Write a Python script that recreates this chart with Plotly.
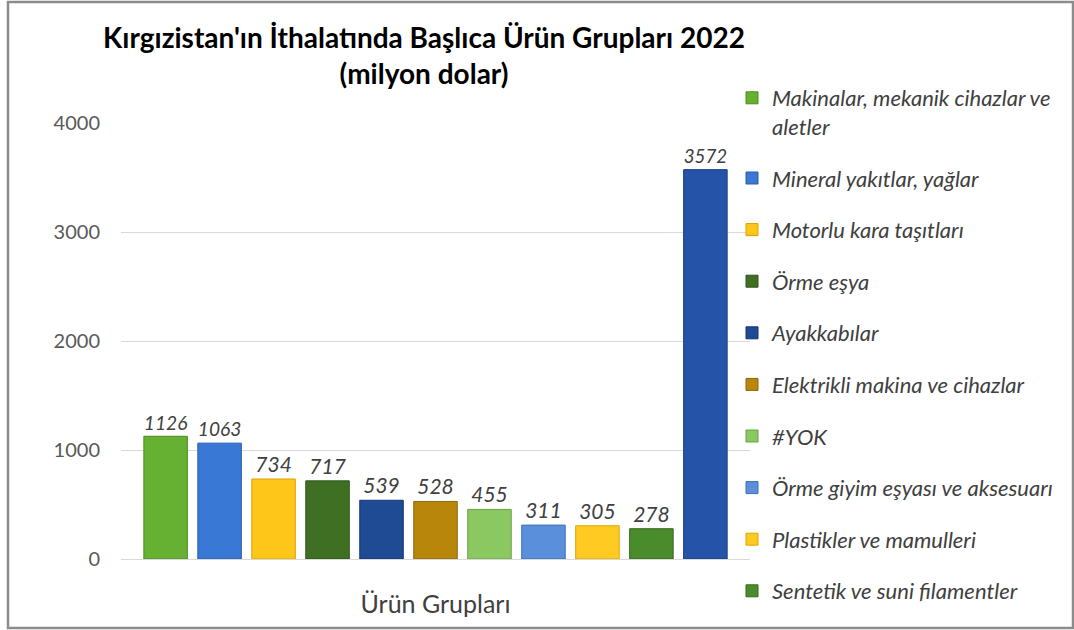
import plotly.graph_objects as go

category = ["Ürün Grupları"]
names = [
    "Makinalar, mekanik cihazlar ve<br>aletler",
    "Mineral yakıtlar, yağlar",
    "Motorlu kara taşıtları",
    "Örme eşya",
    "Ayakkabılar",
    "Elektrikli makina ve cihazlar",
    "#YOK",
    "Örme giyim eşyası ve aksesuarı",
    "Plastikler ve mamulleri",
    "Sentetik ve suni filamentler",
    "Diğer",
]
values = [1126, 1063, 734, 717, 539, 528, 455, 311, 305, 278, 3572]
in_legend = [True] * 10 + [False]
colors = ["#66B032", "#3A78D6", "#FFC61A", "#3F6F22", "#1F4A94", "#B8860B",
          "#8CC862", "#5A8FDC", "#FFCB22", "#4A8B2C", "#2553A8"]
edges = ["#4E8A26", "#2A5CA8", "#D9A200", "#2E5418", "#153570", "#8C6508",
         "#6BA048", "#426FB0", "#D9A800", "#36681F", "#1A3D80"]

W, H = 1074, 630
ML, MR, MT, MB = 121, 324, 123, 71
PW, PH = W - ML - MR, H - MT - MB

fig = go.Figure()
for i, (n, v) in enumerate(zip(names, values)):
    fig.add_trace(go.Bar(
        x=category, y=[v], name=n, showlegend=in_legend[i],
        legendgroup=f"g{i}",
        marker=dict(color=colors[i], line=dict(color=edges[i], width=1)),
        texttemplate="%{y}", textposition="outside",
        textfont=dict(family="Lato", size=21, color="#404040", style="italic"),
        cliponaxis=False,
    ))

fig.update_layout(
    width=W, height=H,
    margin=dict(l=ML, r=MR, t=MT, b=MB),
    paper_bgcolor="white", plot_bgcolor="white",
    barmode="group", bargap=0.056, bargroupgap=0.194,
    title=dict(
        text="Kırgızistan'ın İthalatında Başlıca Ürün Grupları 2022<br>(milyon dolar)",
        x=424 / W, xanchor="center", xref="container",
        y=1 - 48 / H, yanchor="top", yref="container",
        font=dict(family="Lato", size=28, color="#000000", weight="bold"),
    ),
    legend=dict(
        x=(732 - ML) / PW, xanchor="left", y=1 + (MT - 77) / PH, yanchor="top",
        font=dict(family="Lato", size=22, color="#404040", style="italic"),
        tracegroupgap=20, traceorder="grouped", valign="top",
        bgcolor="rgba(0,0,0,0)", maxheight=600,
    ),
    xaxis=dict(
        showticklabels=False, showgrid=False, zeroline=False, showline=False,
        title=dict(text="Ürün Grupları", standoff=36,
                   font=dict(family="Lato", size=25, color="#404040")),
    ),
    yaxis=dict(
        range=[0, 4000], tickvals=[0, 1000, 2000, 3000, 4000],
        showgrid=True, gridcolor="#D9D9D9", gridwidth=1,
        zeroline=True, zerolinecolor="#D9D9D9", zerolinewidth=1,
        showline=False, ticks="", ticklabelstandoff=20,
        tickfont=dict(family="Lato", size=20, color="#595959"),
    ),
    shapes=[dict(
        type="rect", xref="paper", yref="paper",
        x0=(8 - ML) / PW, x1=(1073 - ML) / PW,
        y0=(MT + PH - 628) / PH, y1=(MT + PH - 2) / PH,
        line=dict(color="#8C8C8C", width=2.5), fillcolor="rgba(0,0,0,0)",
    )],
)

fig.write_html("out.html", config={"displayModeBar": False},
               post_script="document.body.style.margin='0';")
